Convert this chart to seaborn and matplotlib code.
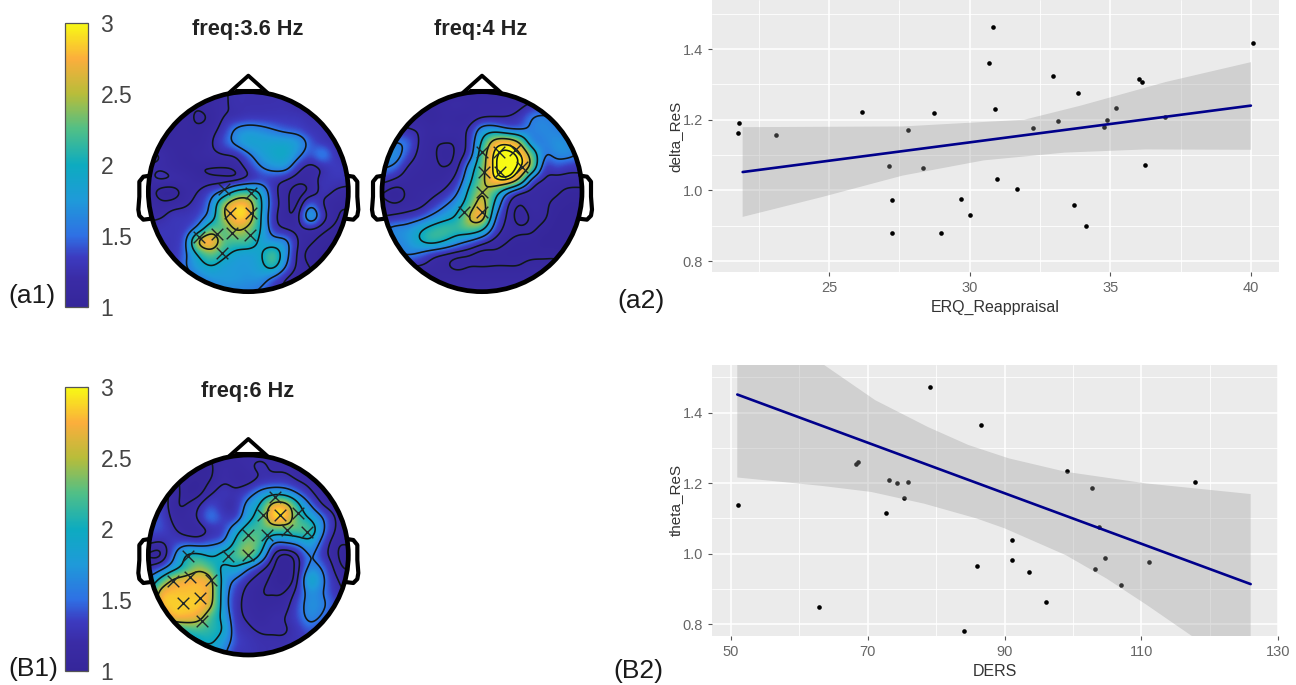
import numpy as np
import matplotlib
matplotlib.use('AGG')
import matplotlib.pyplot as plt
from matplotlib.colors import LinearSegmentedColormap
from matplotlib.patches import Circle
import seaborn as sns

W, H = 1296, 685

# scatter data, panel a2
erq_x = [21.76, 21.79, 23.13, 26.17, 27.13, 27.23, 27.23, 27.82, 28.35, 28.73, 28.99, 29.68, 30.02, 30.69, 30.83, 30.90,
         30.99, 31.69, 32.27, 32.97, 33.13, 33.72, 33.87, 34.13, 34.76, 34.90, 35.22, 36.03, 36.13, 36.22, 36.96, 40.07]
delta_y = [1.162, 1.191, 1.158, 1.222, 1.069, 0.972, 0.880, 1.171, 1.063, 1.219, 0.880, 0.976, 0.931, 1.362, 1.463, 1.230,
           1.031, 1.005, 1.176, 1.325, 1.197, 0.958, 1.277, 0.899, 1.179, 1.200, 1.233, 1.316, 1.307, 1.073, 1.209, 1.416]
erq_line_x = [21.93, 40.0]
erq_line_y = [1.052, 1.240]
erq_up_x = [21.93, 27.62, 31.94, 33.95, 36.98, 40.0]
erq_up_y = [1.179, 1.181, 1.200, 1.240, 1.307, 1.363]
erq_lo_x = [21.93, 24.74, 27.62, 30.5, 33.38, 36.26, 40.0]
erq_lo_y = [0.925, 0.981, 1.042, 1.085, 1.107, 1.116, 1.115]

# scatter data, panel B2
ders_x = [51.07, 62.82, 68.22, 68.63, 72.61, 73.09, 74.33, 75.22, 75.88, 79.02, 84.12, 85.91, 86.50, 91.13, 91.13, 93.56,
          95.99, 99.08, 102.76, 103.23, 103.77, 104.72, 106.97, 111.13, 117.89]
theta_y = [1.139, 0.849, 1.255, 1.259, 1.115, 1.209, 1.200, 1.159, 1.204, 1.473, 0.781, 0.965, 1.366, 1.038, 0.981, 0.949,
           0.864, 1.234, 1.186, 0.958, 1.076, 0.988, 0.911, 0.976, 1.204]
ders_line_x = [50.9, 126.0]
ders_line_y = [1.451, 0.914]
ders_up_x = [50.9, 63.5, 71.07, 78.78, 84.7, 90.65, 98.96, 110.8, 126.0]
ders_up_y = [1.68, 1.536, 1.435, 1.359, 1.308, 1.270, 1.232, 1.199, 1.169]
ders_lo_x = [50.9, 63.35, 70.5, 78.2, 85.9, 90.0, 98.96, 104.9, 110.8, 117.4, 126.0]
ders_lo_y = [1.216, 1.192, 1.175, 1.142, 1.100, 1.072, 0.996, 0.930, 0.855, 0.767, 0.65]

# scalp values, on a 17 x 17 raster across each head
head_36 = [
    [1.1, 1.1, 1.1, 1.1, 1.1, 1.1, 1.2, 1.25, 1.25, 1.25, 1.25, 1.25, 1.2, 1.2, 1.2, 1.2, 1.2],
    [1.1, 1.1, 1.1, 1.1, 1.1, 1.15, 1.2, 1.25, 1.25, 1.25, 1.25, 1.25, 1.2, 1.2, 1.2, 1.2, 1.2],
    [1.1, 1.1, 1.1, 1.12, 1.05, 1.1, 1.22, 1.25, 1.3, 1.3, 1.3, 1.3, 1.3, 1.25, 1.25, 1.2, 1.2],
    [1.1, 1.1, 1.1, 1.1, 1.1, 1.15, 1.3, 1.6, 1.7, 1.65, 1.55, 1.45, 1.4, 1.3, 1.28, 1.25, 1.2],
    [1.1, 1.1, 1.1, 1.12, 1.1, 1.2, 1.4, 1.65, 1.85, 1.85, 1.85, 1.85, 1.75, 1.45, 1.3, 1.25, 1.2],
    [1.25, 1.22, 1.12, 1.1, 1.15, 1.18, 1.22, 1.25, 1.5, 1.75, 1.9, 1.95, 1.65, 1.4, 1.62, 1.3, 1.25],
    [1.2, 1.2, 1.15, 1.1, 1.08, 1.08, 1.08, 1.12, 1.3, 1.55, 1.7, 1.7, 1.3, 1.15, 1.25, 1.35, 1.3],
    [1.2, 1.25, 1.22, 1.2, 1.12, 1.1, 1.1, 1.1, 1.25, 1.35, 1.3, 1.22, 1.12, 1.15, 1.28, 1.3, 1.3],
    [1.15, 1.0, 1.0, 1.15, 1.22, 1.4, 1.6, 2.05, 2.15, 1.9, 1.3, 1.12, 1.02, 1.1, 1.28, 1.2, 1.15],
    [1.2, 1.12, 1.15, 1.2, 1.3, 1.6, 2.4, 2.8, 2.75, 2.0, 1.35, 1.12, 1.05, 1.5, 1.2, 1.1, 1.1],
    [1.2, 1.2, 1.3, 1.3, 1.4, 1.7, 2.45, 2.85, 2.8, 1.95, 1.3, 1.1, 1.15, 1.85, 1.3, 1.1, 1.05],
    [1.25, 1.3, 1.3, 1.35, 1.65, 2.3, 2.2, 2.55, 2.4, 1.95, 1.35, 1.2, 1.15, 1.2, 1.1, 1.05, 1.0],
    [1.3, 1.3, 1.3, 1.5, 2.65, 2.85, 2.3, 2.2, 2.2, 1.85, 1.7, 1.65, 1.2, 1.1, 1.05, 1.0, 1.0],
    [1.3, 1.3, 1.3, 1.5, 2.0, 2.3, 2.05, 1.85, 1.8, 1.9, 2.25, 1.7, 1.15, 1.05, 1.0, 1.0, 1.0],
    [1.3, 1.3, 1.3, 1.55, 1.8, 1.95, 1.8, 1.75, 1.75, 1.85, 2.1, 1.55, 1.15, 1.08, 1.02, 1.0, 1.0],
    [1.3, 1.3, 1.3, 1.4, 1.55, 1.7, 1.75, 1.75, 1.7, 1.7, 1.45, 1.2, 1.1, 1.1, 1.05, 1.0, 1.0],
    [1.3, 1.3, 1.3, 1.4, 1.4, 1.5, 1.6, 1.6, 1.6, 1.5, 1.3, 1.2, 1.1, 1.1, 1.05, 1.0, 1.0],
]
head_4 = [
    [1.1, 1.1, 1.1, 1.1, 1.1, 1.1, 1.1, 1.1, 1.1, 1.1, 1.1, 1.1, 1.1, 1.1, 1.1, 1.1, 1.1],
    [1.1, 1.1, 1.1, 1.1, 1.1, 1.15, 1.18, 1.15, 1.15, 1.15, 1.15, 1.15, 1.25, 1.3, 1.3, 1.3, 1.3],
    [1.2, 1.2, 1.15, 1.12, 1.08, 1.12, 1.1, 1.1, 1.18, 1.2, 1.22, 1.3, 1.55, 1.6, 1.5, 1.4, 1.3],
    [1.3, 1.3, 1.22, 1.2, 1.12, 1.18, 1.15, 1.25, 1.7, 1.75, 1.55, 1.5, 1.6, 1.65, 1.6, 1.5, 1.4],
    [1.5, 1.55, 1.5, 1.18, 1.1, 1.08, 1.1, 1.3, 2.0, 2.7, 2.85, 2.5, 1.65, 1.6, 1.7, 1.65, 1.5],
    [1.65, 1.7, 1.4, 1.15, 1.1, 1.05, 1.1, 1.35, 2.2, 3.0, 3.1, 3.0, 2.3, 1.55, 1.65, 1.65, 1.5],
    [1.6, 1.5, 1.2, 1.12, 1.1, 1.08, 1.15, 1.7, 2.3, 3.0, 3.2, 3.0, 2.4, 1.35, 1.4, 1.3, 1.3],
    [1.3, 1.2, 1.12, 1.1, 1.1, 1.12, 1.3, 1.85, 2.4, 2.9, 3.05, 2.5, 1.45, 1.2, 1.15, 1.15, 1.15],
    [1.08, 1.02, 1.1, 1.12, 1.15, 1.25, 1.5, 2.05, 2.5, 2.2, 1.6, 1.25, 1.15, 1.12, 1.1, 1.05, 1.05],
    [1.12, 1.08, 1.12, 1.15, 1.3, 1.5, 1.75, 2.2, 2.7, 1.9, 1.25, 1.08, 1.15, 1.1, 1.05, 1.02, 1.02],
    [1.2, 1.25, 1.3, 1.4, 1.6, 1.8, 2.0, 2.55, 2.8, 1.6, 1.2, 1.02, 1.1, 1.1, 1.02, 1.0, 1.0],
    [1.55, 1.65, 1.7, 1.9, 2.1, 2.2, 2.15, 2.25, 2.05, 1.4, 1.15, 1.1, 1.1, 1.05, 1.0, 1.0, 1.0],
    [1.5, 1.6, 1.7, 1.95, 2.1, 1.95, 1.7, 1.5, 1.3, 1.15, 1.08, 1.05, 1.05, 1.0, 1.0, 1.0, 1.0],
    [1.4, 1.5, 1.6, 1.5, 1.3, 1.2, 1.12, 1.08, 1.02, 1.06, 1.05, 1.05, 1.05, 1.05, 1.05, 1.0, 1.0],
    [1.2, 1.2, 1.2, 1.2, 1.15, 1.1, 1.05, 1.08, 1.08, 1.08, 1.08, 1.08, 1.12, 1.12, 1.12, 1.1, 1.1],
    [1.1, 1.1, 1.1, 1.1, 1.1, 1.15, 1.15, 1.15, 1.15, 1.15, 1.15, 1.15, 1.15, 1.15, 1.1, 1.1, 1.1],
    [1.2, 1.2, 1.2, 1.2, 1.2, 1.2, 1.2, 1.2, 1.2, 1.2, 1.2, 1.2, 1.2, 1.2, 1.2, 1.2, 1.2],
]
head_6 = [
    [1.1, 1.1, 1.1, 1.1, 1.1, 1.1, 1.1, 1.2, 1.2, 1.2, 1.2, 1.2, 1.1, 1.1, 1.1, 1.1, 1.1],
    [1.1, 1.1, 1.1, 1.1, 1.05, 1.05, 1.2, 1.15, 1.2, 1.25, 1.2, 1.2, 1.15, 1.1, 1.1, 1.1, 1.1],
    [1.1, 1.1, 1.1, 1.05, 1.02, 1.08, 1.2, 1.15, 1.15, 1.25, 1.3, 1.3, 1.2, 1.15, 1.1, 1.1, 1.1],
    [1.3, 1.3, 1.15, 1.02, 1.02, 1.2, 1.3, 1.25, 1.4, 1.65, 1.8, 1.75, 1.5, 1.25, 1.1, 1.1, 1.1],
    [1.35, 1.35, 1.1, 1.08, 1.2, 1.4, 1.25, 1.25, 1.7, 2.0, 2.7, 2.7, 2.05, 1.55, 1.2, 1.1, 1.1],
    [1.4, 1.4, 1.15, 1.12, 1.25, 1.55, 1.35, 1.35, 1.85, 2.15, 2.85, 2.85, 2.2, 1.9, 1.55, 1.2, 1.1],
    [1.4, 1.4, 1.25, 1.12, 1.12, 1.25, 1.35, 1.8, 2.15, 2.2, 2.2, 2.2, 2.25, 2.2, 1.6, 1.2, 1.1],
    [1.25, 1.2, 1.35, 1.4, 1.35, 1.45, 1.55, 2.05, 2.35, 2.2, 1.55, 1.55, 1.65, 1.85, 1.4, 1.1, 1.1],
    [1.05, 1.03, 1.5, 2.0, 2.05, 1.9, 2.1, 2.2, 2.45, 1.9, 1.2, 1.02, 1.2, 1.6, 1.3, 1.1, 1.02],
    [1.25, 1.4, 1.75, 2.1, 2.4, 2.2, 1.85, 1.95, 1.6, 1.3, 1.08, 0.98, 1.15, 1.65, 1.5, 1.15, 1.05],
    [1.6, 2.1, 2.6, 2.7, 2.75, 2.6, 1.8, 1.5, 1.25, 1.12, 1.05, 0.98, 1.2, 1.95, 1.6, 1.25, 1.15],
    [1.85, 2.7, 2.8, 2.8, 2.8, 2.65, 1.75, 1.35, 1.15, 1.08, 1.08, 1.08, 1.3, 1.7, 1.55, 1.3, 1.2],
    [2.0, 2.75, 2.85, 2.85, 2.85, 2.6, 1.75, 1.3, 1.15, 1.1, 1.1, 1.15, 1.4, 1.7, 1.6, 1.4, 1.3],
    [2.0, 2.4, 2.75, 2.75, 2.65, 2.2, 1.85, 1.3, 1.2, 1.12, 1.2, 1.22, 1.4, 1.65, 1.5, 1.3, 1.3],
    [1.9, 1.9, 2.0, 2.15, 2.2, 2.1, 1.95, 1.35, 1.25, 1.2, 1.2, 1.2, 1.3, 1.45, 1.3, 1.3, 1.3],
    [1.6, 1.6, 1.6, 1.7, 1.9, 2.0, 1.75, 1.4, 1.3, 1.25, 1.25, 1.25, 1.3, 1.3, 1.3, 1.3, 1.3],
    [1.6, 1.6, 1.6, 1.6, 1.7, 1.8, 1.6, 1.3, 1.3, 1.25, 1.25, 1.25, 1.3, 1.3, 1.3, 1.3, 1.3],
]

# significant channels, in crop pixels of each head
cross_36_x = [268, 348, 285, 348, 192, 245, 292, 345, 262]
cross_36_y = [358, 368, 428, 428, 500, 492, 490, 495, 548]
cross_4_x = [345, 395, 445, 350, 400, 465, 345, 290, 345]
cross_4_y = [245, 245, 240, 305, 305, 290, 365, 425, 425]
cross_6_x = [420, 385, 435, 490, 515, 395, 455, 340, 280, 340, 160, 165, 115, 228, 145, 195, 200]
cross_6_y = [185, 240, 240, 235, 290, 300, 285, 300, 362, 360, 362, 425, 437, 435, 505, 490, 558]

levels = [1.08, 1.22, 1.55, 1.95, 2.5, 2.9, 3.05]
cbar_ticks = [1, 1.5, 2, 2.5, 3]
cbar_labels = ['1', '1.5', '2', '2.5', '3']
parula = LinearSegmentedColormap.from_list('parula_like', [
    (0.0, '#35269a'), (0.1, '#3a2ca6'), (0.175, '#3c3bc0'), (0.25, '#2f70e4'), (0.375, '#1f9ad9'),
    (0.5, '#0dabc0'), (0.625, '#4fbf88'), (0.75, '#b7bd3a'), (0.875, '#fbae3c'), (1.0, '#f8fa14')])

sns.set_style('white')
plt.rcParams['font.family'] = ['Liberation Sans', 'DejaVu Sans']


def caja(left, top, ancho, alto):
    return fig.add_axes([left / W, 1 - (top + alto) / H, ancho / W, alto / H])


def catmull(fila, n):
    # cubic through the read values, for display only
    fila = np.asarray(fila, dtype=float)
    p = np.r_[fila[0], fila, fila[-1]]
    t = np.linspace(0, len(fila) - 1, n)
    i = np.minimum(t.astype(int), len(fila) - 2)
    u = t - i
    a, b, c, d = p[i], p[i + 1], p[i + 2], p[i + 3]
    return 0.5 * (2 * b + (c - a) * u + (2 * a - 5 * b + 4 * c - d) * u ** 2 + (3 * b - a - 3 * c + d) * u ** 3)


def difuminar(fila, sigma=4):
    # the source picture is soft, so blur a bit
    k = np.exp(-0.5 * (np.arange(-12, 13) / sigma) ** 2)
    k = k / k.sum()
    return np.convolve(np.pad(fila, 12, mode='edge'), k, mode='valid')


def suavizar(grid, n=200):
    paso = np.array([difuminar(catmull(f, n)) for f in np.asarray(grid)])
    return np.array([difuminar(catmull(c, n)) for c in paso.T]).T


def cabeza(grid, left, top, ox, oy, cx_x, cx_y):
    # the axes show one crop of 690 zoom pixels; the map fills 200 cells of it
    ax = caja(left, top, 230, 230)
    fino = suavizar(grid)
    sns.heatmap(fino, ax=ax, cmap=parula, vmin=1, vmax=3, cbar=False, xticklabels=False, yticklabels=False)
    ax.set_xlim(-ox / 3, (690 - ox) / 3)
    ax.set_ylim((690 - oy) / 3, -oy / 3)
    malla = ax.collections[0]
    circulo = Circle((100, 100), 100, transform=ax.transData, fill=False, ec='black', lw=3.4, zorder=6)
    ax.add_patch(circulo)
    malla.set_clip_path(circulo)
    lineas = ax.contour(np.arange(200) + 0.5, np.arange(200) + 0.5, fino, levels=levels, colors='#101818', linewidths=1.15, zorder=3)
    lineas.set_clip_path(circulo)
    sns.scatterplot(x=(np.array(cx_x) - ox) / 3, y=(np.array(cx_y) - oy) / 3, ax=ax, marker='x', color='#20282a',
                    s=70, linewidth=1.0, zorder=4)
    # nose and ears, cell coordinates around the head
    ax.plot([81, 100, 119], [1, -16, 1], color='black', lw=2.8, zorder=5, clip_on=False)
    ax.plot([88, 112], [-2, -2], color='black', lw=2.2, zorder=5)
    ex = np.array([1.5, -5, -9, -9, -10, -9, -5, 3])
    ey = np.array([84, 85, 90, 105, 118, 124, 128, 127])
    ax.plot(ex, ey, color='black', lw=3.0, zorder=5)
    ax.plot(200 - ex, ey, color='black', lw=3.0, zorder=5)
    ax.axis('off')
    return ax


def barra(top, alto):
    cax = caja(65, top, 23, alto)
    rampa = plt.cm.ScalarMappable(norm=plt.Normalize(1, 3), cmap=parula)
    cb = fig.colorbar(rampa, cax=cax)
    cb.set_ticks(cbar_ticks, labels=cbar_labels)
    cb.ax.tick_params(direction='in', length=2, width=0.8, color='#333333', labelsize=16.5, labelcolor='#444444', pad=9)
    cb.outline.set_edgecolor('#555555')
    cb.outline.set_linewidth(0.9)


def panel(left, top, ancho, alto, x, y, lx, ly, ux, uy, dx, dy, xlim, ylim, xmaj, xmin, xlabel, ylabel):
    ax = caja(left, top, ancho, alto)
    ax.set_facecolor('#ebebeb')
    sns.scatterplot(x=x, y=y, ax=ax, color='black', s=11, linewidth=0, zorder=3)
    ax.fill(np.r_[ux, dx[::-1]], np.r_[uy, dy[::-1]], color='#999999', alpha=0.33, lw=0, zorder=4)
    sns.lineplot(x=lx, y=ly, ax=ax, color='#00008b', linewidth=1.9, zorder=5, errorbar=None)
    ax.set_xlim(*xlim)
    ax.set_ylim(*ylim)
    ax.set_xticks(xmaj)
    ax.set_xticks(xmin, minor=True)
    ax.set_yticks([0.8, 1.0, 1.2, 1.4])
    ax.set_yticks([0.9, 1.1, 1.3, 1.5], minor=True)
    ax.set_yticklabels(['0.8', '1.0', '1.2', '1.4'])
    ax.grid(True, which='major', color='white', lw=1.1, zorder=1)
    ax.grid(True, which='minor', color='white', lw=0.6, zorder=1)
    ax.set_axisbelow(True)
    ax.tick_params(which='major', length=3, width=0.8, color='#555555', labelcolor='#666666', labelsize=10.5, pad=3.5, bottom=True, left=True)
    ax.tick_params(which='minor', length=0)
    ax.set_xlabel(xlabel, fontsize=11.5, color='#333333', labelpad=3.5)
    ax.set_ylabel(ylabel, fontsize=11, color='#333333', labelpad=0)
    sns.despine(ax=ax, left=True, bottom=True, right=True, top=True)
    return ax


def texto(x, y, s, **kw):
    fig.text(x / W, 1 - y / H, s, **kw)


fig = plt.figure(figsize=(W / 100, H / 100), dpi=100)

barra(23, 284)
barra(387, 284)
cabeza(head_36, 135, 70, 40, 65, cross_36_x, cross_36_y)
cabeza(head_4, 367, 70, 45, 65, cross_4_x, cross_4_y)
cabeza(head_6, 135, 435, 40, 60, cross_6_x, cross_6_y)

panel(712, 0, 567, 272, erq_x, delta_y, erq_line_x, erq_line_y, erq_up_x, erq_up_y, erq_lo_x, erq_lo_y,
      (20.84, 41.0), (0.769, 1.539), [25, 30, 35, 40], [22.5, 27.5, 32.5, 37.5], 'ERQ_Reappraisal', 'delta_ReS')
panel(712, 364.5, 566, 271.5, ders_x, theta_y, ders_line_x, ders_line_y, ders_up_x, ders_up_y, ders_lo_x, ders_lo_y,
      (47.2, 130.0), (0.767, 1.536), [50, 70, 90, 110, 130], [60, 80, 100, 120], 'DERS', 'theta_ReS')

titulo = dict(ha='center', va='center', fontsize=15.7, fontweight='bold', color='#222222')
texto(248, 29, 'freq:3.6 Hz', **titulo)
texto(481, 29, 'freq:4 Hz', **titulo)
texto(248, 392, 'freq:6 Hz', **titulo)

marca = dict(ha='left', va='center', fontsize=19, color='#1a1a1a')
texto(8, 296, '(a1)', **marca)
texto(617, 301, '(a2)', **marca)
texto(8, 669, '(B1)', **marca)
texto(613, 671, '(B2)', **marca)

fig.savefig('out.png', dpi=100, facecolor='white')
plt.close(fig)
